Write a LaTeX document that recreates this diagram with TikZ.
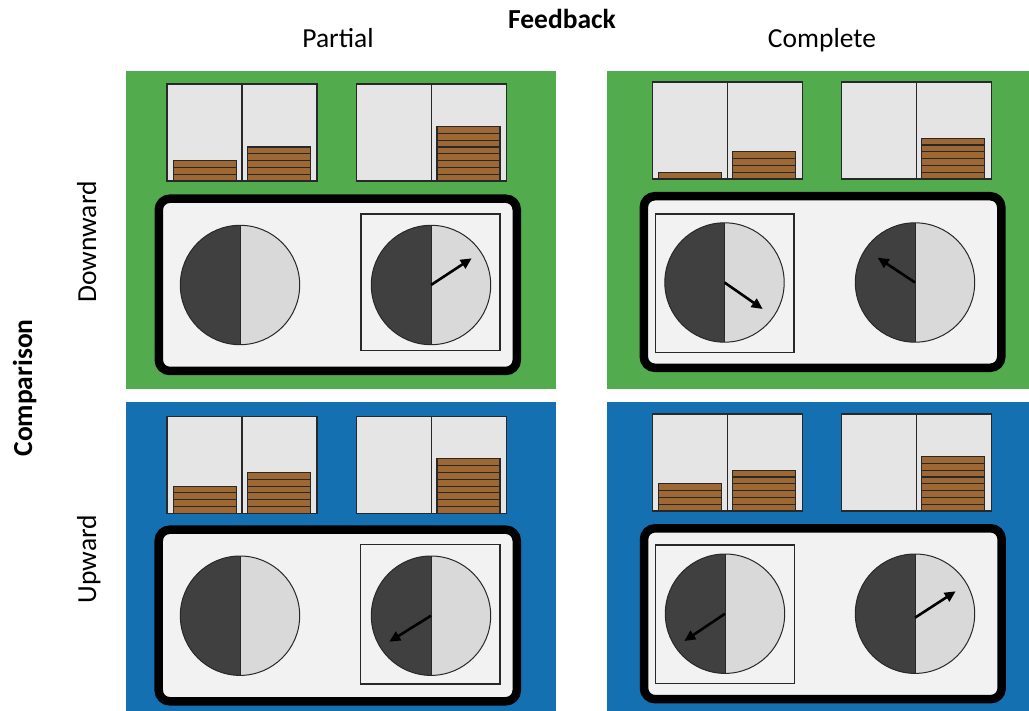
\documentclass[tikz,border=0pt]{standalone}
\usepackage{fontspec}
\setmainfont{Carlito}
\usetikzlibrary{calc,arrows.meta}

\definecolor{panelgreen}{RGB}{82,172,78}
\definecolor{panelblue}{RGB}{20,112,176}
\definecolor{trayfill}{RGB}{242,242,242}
\definecolor{binfill}{RGB}{229,229,229}
\definecolor{brick}{RGB}{158,104,52}
\definecolor{wheeldark}{RGB}{64,64,64}
\definecolor{wheellight}{RGB}{217,217,217}
\definecolor{edge}{RGB}{40,40,40}

\tikzset{
  tray/.style={draw=black, line width=8.5pt, fill=trayfill, rounded corners=11pt},
  binbox/.style={draw=edge, line width=1.3pt, fill=binfill},
  brickbox/.style={draw=edge, line width=1.1pt, fill=brick},
  pick/.style={draw=edge, line width=1.1pt},
  wheelline/.style={draw=edge, line width=1pt},
  pointer/.style={line width=2.6pt, -{Triangle[length=11pt,width=10pt]}},
  lab/.style={font=\fontsize{27.5}{30}\selectfont, anchor=base, inner sep=0pt},
}

% a two-coloured wheel centred at (#2,#3)
\newcommand{\wheelat}[3]{%
  \coordinate (#1) at (#2,#3);
  \begin{scope}
    \clip (#1) circle (59.7pt);
    \fill[wheeldark] ($(#1)+(-61,-61)$) rectangle ($(#1)+(0,61)$);
    \fill[wheellight] ($(#1)+(0,-61)$) rectangle ($(#1)+(61,61)$);
  \end{scope}
  \draw[wheelline] (#1) circle (59.7pt);
  \draw[wheelline] ($(#1)+(0,-59.7)$) -- ($(#1)+(0,59.7)$);
}

% a two-bin box, left edge #2, bottom #3
\newcommand{\binpair}[3]{%
  \coordinate (#1) at (#2,#3);
  \draw[binbox] (#2,{#3-97}) rectangle ++(150,97);
  \draw[binbox] ({#2+75},{#3-97}) -- ({#2+75},#3);
}

% a stack of #3 bricks centred on x=#1, resting on y=#2
\newcommand{\bricks}[3]{%
  \foreach \k in {1,...,#3}{
    \draw[brickbox] ({#1-31.5},{#2-\k*6.8}) rectangle ({#1+31.5},{#2-(\k-1)*6.8});
  }
}

\begin{document}
\begin{tikzpicture}[x=1pt,y=-1pt]
\useasboundingbox (0,0) rectangle (1029,711);

% coloured panels
\fill[panelgreen] (126,71) rectangle (556,389);
\fill[panelgreen] (607,71) rectangle (1029,389);
\fill[panelblue] (126,402) rectangle (556,711);
\fill[panelblue] (607,402) rectangle (1029,711);

% headings
\node[lab, font=\fontsize{27.5}{30}\selectfont\bfseries] (fb) at (562,29) {Feedback};
\node[lab] (partial) at (338,48) {Partial};
\node[lab] (complete) at (822,48) {Complete};
\node[lab, font=\fontsize{27.5}{30}\selectfont\bfseries, rotate=90] (cmp) at (32,388) {Comparison};
\node[lab, rotate=90] (down) at (96,242) {Downward};
\node[lab, rotate=90] (up) at (96,559) {Upward};

% bins with bricks
\binpair{tla}{167}{181}   \bricks{205}{181}{3} \bricks{279}{181}{5}
\binpair{tlb}{356.5}{181} \bricks{468.5}{181}{8}
\binpair{tra}{652.3}{179} \bricks{689.8}{179}{1} \bricks{764}{179}{4}
\binpair{trb}{841.3}{179} \bricks{953}{179}{6}
\binpair{bla}{167}{513.3}   \bricks{205}{513.3}{4} \bricks{279}{513.3}{6}
\binpair{blb}{356.5}{513.3} \bricks{468.5}{513.3}{8}
\binpair{bra}{652.3}{511} \bricks{689.8}{511}{4} \bricks{764}{511}{6}
\binpair{brb}{841.3}{511} \bricks{953}{511}{8}

% trays
\draw[tray] (158.8,198.7) rectangle (516.8,371);
\draw[tray] (643.8,196.2) rectangle (1001.3,367.8);
\draw[tray] (158.7,529.7) rectangle (516.8,701.3);
\draw[tray] (644,528.3) rectangle (1001.7,699.2);

% frames round the chosen wheel
\draw[pick] (361,214) rectangle (500,350.7);
\draw[pick] (655.7,214) rectangle (794,352.3);
\draw[pick] (360.7,544.3) rectangle (500,684);
\draw[pick] (655.7,545) rectangle (794.3,683.3);

% wheels
\wheelat{tlw1}{240}{285}
\wheelat{tlw2}{431}{285}
\wheelat{trw1}{724.5}{282.5}
\wheelat{trw2}{915}{282.5}
\wheelat{blw1}{240}{615.7}
\wheelat{blw2}{431}{615.7}
\wheelat{brw1}{725}{613.7}
\wheelat{brw2}{915}{613.7}

% pointers
\coordinate (tlp2) at (471.7,258.3);
\coordinate (trp1) at (762.7,309);
\coordinate (trp2) at (877.7,257.7);
\coordinate (blp2) at (389.3,641.7);
\coordinate (brp1) at (684.3,641);
\coordinate (brp2) at (955.7,591.3);
\draw[pointer] (tlw2) -- (tlp2);
\draw[pointer] (trw1) -- (trp1);
\draw[pointer] (trw2) -- (trp2);
\draw[pointer] (blw2) -- (blp2);
\draw[pointer] (brw1) -- (brp1);
\draw[pointer] ($(brw2)+(0,4)$) -- (brp2);
\end{tikzpicture}
\end{document}
